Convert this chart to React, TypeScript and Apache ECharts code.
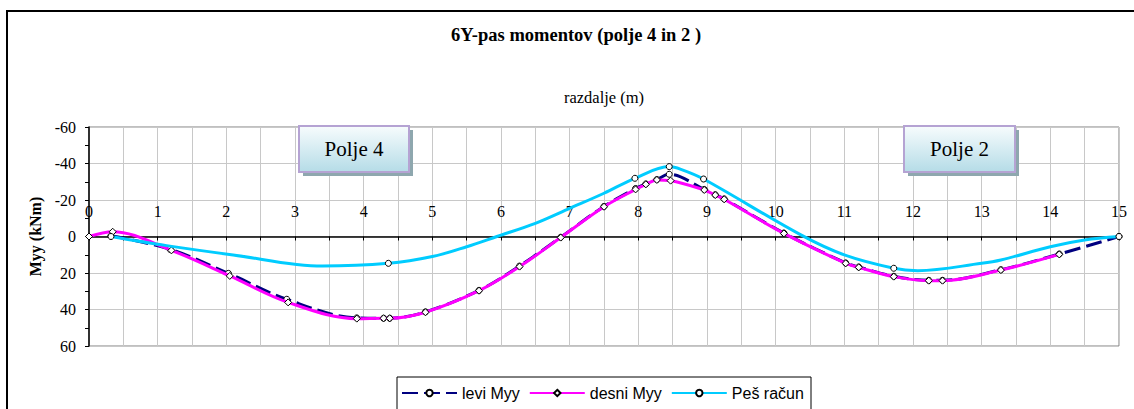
import React, { useEffect, useRef } from "react";
import * as echarts from "echarts";

// ---- data ----
const leviX = [0.32, 1.18, 2.03, 2.88, 3.9, 4.29, 4.38, 4.9, 5.68, 6.27, 6.87, 7.5, 7.96, 8.11, 8.27, 8.45, 8.96, 9.12, 9.25, 10.12, 11.02, 11.21, 11.72, 12.23, 12.43, 13.28, 14.13, 15];
const leviY = [-0.4, 7.0, 20.2, 34.4, 44.6, 44.8, 44.8, 41.3, 29.5, 16.2, 0.4, -16.5, -26.3, -28.8, -31.2, -34.1, -25.8, -22.9, -20.6, -1.9, 14.5, 16.7, 21.8, 24.0, 24.0, 18.2, 9.6, 0];

const desniX = [0, 0.345, 1.2, 2.05, 2.9, 3.9, 4.29, 4.38, 4.9, 5.68, 6.27, 6.87, 7.5, 7.96, 8.11, 8.27, 8.47, 8.96, 9.12, 9.25, 10.12, 11.02, 11.21, 11.72, 12.23, 12.43, 13.28, 14.13];
const desniY = [0, -2.6, 7.6, 21.6, 36.1, 45.0, 44.8, 44.8, 41.5, 29.7, 16.5, 0.6, -16.3, -25.8, -28.6, -31.0, -30.6, -25.5, -22.7, -20.4, -1.7, 14.7, 16.9, 22.0, 24.2, 24.2, 18.4, 9.8];

const pesX = [0.32, 1.13, 2.1, 3.4, 4.36, 5.0, 5.5, 5.94, 6.5, 7.0, 7.5, 7.95, 8.45, 8.62, 8.95, 10.36, 11.0, 11.72, 12.07, 13.0, 13.28, 14.0, 14.5, 15];
const pesY = [0, 5.0, 10.1, 16.2, 14.7, 11.0, 5.6, 0, -7.2, -15.4, -23.7, -31.9, -38.3, -36.8, -31.5, -1.0, 10.1, 17.4, 18.7, 14.7, 12.9, 5.6, 1.9, 0];
const pesMarked = [1, 0, 0, 0, 1, 0, 0, 0, 0, 0, 0, 1, 1, 0, 1, 0, 0, 1, 0, 0, 0, 0, 0, 1];

const seriesNames = ["levi Myy", "desni Myy", "Peš račun"];
const titleText = "6Y-pas momentov (polje 4 in 2 )";
const xAxisName = "razdalje (m)";
const yAxisName = "Myy (kNm)";
const fieldLabels = ["Polje 4", "Polje 2"];

const SERIF = '"Liberation Serif", "Times New Roman", serif';
const SANS = '"Liberation Sans", Arial, sans-serif';

function pairs(xs: number[], ys: number[], marked?: number[]) {
  return xs.map((x, i) =>
    marked && !marked[i] ? { value: [x, ys[i]], symbol: "none" } : { value: [x, ys[i]] }
  );
}

function box(x: number, y: number, w: number, h: number, label: string) {
  return {
    type: "group",
    z: 20,
    children: [
      { type: "rect", shape: { x: x + 4, y: y + 4, width: w, height: h }, style: { fill: "#8ea7ae" }, z: 20 },
      {
        type: "rect",
        shape: { x, y, width: w, height: h },
        style: {
          fill: {
            type: "linear", x: 0, y: 0, x2: 0, y2: 1,
            colorStops: [
              { offset: 0, color: "#f7fcfd" },
              { offset: 1, color: "#b5dce7" },
            ],
          },
          stroke: "#b5a3d3",
          lineWidth: 2,
        },
        z: 21,
      },
      {
        type: "text",
        x: x + w / 2,
        y: y + h / 2,
        z: 22,
        style: { text: label, font: `21px ${SERIF}`, fill: "#000", align: "center", verticalAlign: "middle" },
      },
    ],
  };
}

export default function App() {
  const ref = useRef<HTMLDivElement>(null);
  useEffect(() => {
    if (!ref.current) return;
    const chart = echarts.init(ref.current, undefined, { renderer: "svg" });
    const markerStyle = { color: "#fff", borderColor: "#000", borderWidth: 1 };
    chart.setOption({
      animation: false,
      backgroundColor: "#fff",
      grid: [
        { left: 89, right: 15, top: 127, bottom: 63, show: true, borderColor: "#808080", borderWidth: 1 },
        // upper half of the plot: its bottom edge is the zero line, where the x axis sits
        { left: 89, right: 15, top: 127, height: 109.5, show: false },
      ],
      xAxis: [
        {
          type: "value",
          gridIndex: 0,
          min: 0,
          max: 15,
          interval: 1,
          axisLine: { show: false },
          axisTick: { show: false },
          axisLabel: { show: false },
          splitLine: { show: true, lineStyle: { color: "#c8c8c8", width: 1 } },
          minorTick: { show: false, splitNumber: 2 },
          minorSplitLine: { show: true, lineStyle: { color: "#c8c8c8", width: 1 } },
        },
        {
          type: "value",
          gridIndex: 1,
          min: 0,
          max: 15,
          interval: 1,
          position: "bottom",
          axisLine: { show: true, onZero: false, lineStyle: { color: "#000", width: 1.5 } },
          axisTick: { show: true, inside: false, length: 4, lineStyle: { color: "#000" } },
          minorTick: { show: true, splitNumber: 2, length: 4, lineStyle: { color: "#000" } },
          axisLabel: { inside: true, margin: 17, fontFamily: SERIF, fontSize: 16, color: "#000" },
          splitLine: { show: false },
          z: 3,
        },
      ],
      yAxis: [
        {
          type: "value",
          gridIndex: 0,
          min: -60,
          max: 60,
          interval: 20,
          inverse: true,
          name: yAxisName,
          nameLocation: "middle",
          nameGap: 43,
          nameTextStyle: { fontFamily: SERIF, fontSize: 16, fontWeight: "bold", color: "#000" },
          axisLine: { show: true, onZero: false, lineStyle: { color: "#000", width: 1.5 } },
          axisTick: { show: true, length: 4, lineStyle: { color: "#000" } },
          minorTick: { show: true, splitNumber: 2, length: 4, lineStyle: { color: "#000" } },
          axisLabel: { margin: 13, fontFamily: SERIF, fontSize: 16, color: "#000" },
          splitLine: { show: true, lineStyle: { color: "#c8c8c8", width: 1 } },
        },
        {
          type: "value",
          gridIndex: 1,
          min: 0,
          max: 1,
          show: false,
        },
      ],
      legend: {
        left: 401,
        top: 385,
        itemWidth: 55,
        itemHeight: 8,
        itemGap: 9,
        padding: 0,
        textStyle: { fontFamily: SANS, fontSize: 16, color: "#000" },
        data: seriesNames,
      },
      series: [
        {
          name: seriesNames[0],
          type: "line",
          smooth: 0.35,
          data: pairs(leviX, leviY),
          symbol: "circle",
          symbolSize: 6,
          lineStyle: { color: "#000080", width: 3, type: [16, 6] },
          itemStyle: markerStyle,
          z: 4,
        },
        {
          name: seriesNames[1],
          type: "line",
          smooth: 0.35,
          data: pairs(desniX, desniY),
          symbol: "diamond",
          symbolSize: 7,
          lineStyle: { color: "#ff00ff", width: 3 },
          itemStyle: markerStyle,
          z: 5,
        },
        {
          name: seriesNames[2],
          type: "line",
          smooth: 0.35,
          data: pairs(pesX, pesY, pesMarked),
          symbol: "circle",
          symbolSize: 6,
          lineStyle: { color: "#00ccff", width: 3 },
          itemStyle: markerStyle,
          z: 6,
        },
      ],
      graphic: [
        { type: "rect", shape: { x: 7, y: 11, width: 1140, height: 420 }, style: { fill: "none", stroke: "#000", lineWidth: 2 }, z: 1 },
        { type: "text", x: 576, y: 35, style: { text: titleText, font: `bold 18.5px ${SERIF}`, fill: "#000", align: "center", verticalAlign: "middle" }, z: 5 },
        { type: "text", x: 604, y: 97, style: { text: xAxisName, font: `16.5px ${SERIF}`, fill: "#000", align: "center", verticalAlign: "middle" }, z: 5 },
        box(299, 126, 110, 46, fieldLabels[0]),
        box(904, 126, 111, 46, fieldLabels[1]),
        { type: "rect", shape: { x: 397, y: 377, width: 414, height: 60 }, style: { fill: "none", stroke: "#000", lineWidth: 1 }, z: 1 },
      ],
    });
    return () => chart.dispose();
  }, []);
  return <div ref={ref} style={{ position: "absolute", left: 0, top: 0, width: 1134, height: 409 }} />;
}
